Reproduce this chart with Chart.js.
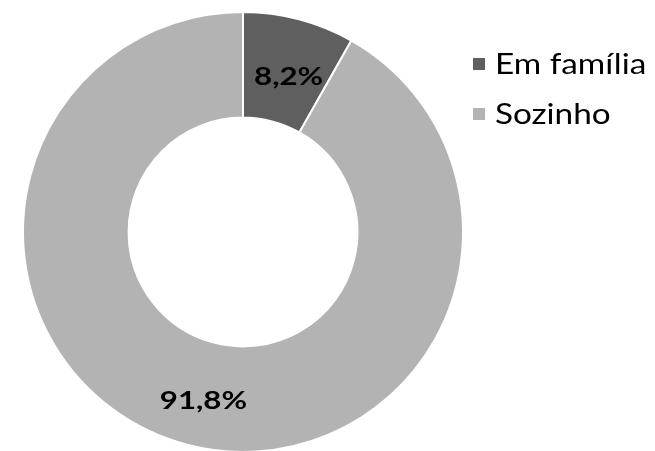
<!DOCTYPE html>
<html>
<head>
<meta charset="utf-8">
<script src="https://cdn.jsdelivr.net/npm/chart.js@4/dist/chart.umd.min.js"></script>
<style>
  html, body { margin: 0; padding: 0; background: #ffffff; }
  #wrap { width: 655px; height: 451px; overflow: hidden; position: relative; }
  #chart { display: block; }
</style>
</head>
<body>
<div id="wrap"><canvas id="chart" width="655" height="464"></canvas></div>
<script>
// Categories and shares (%)
const categories = ['Em família', 'Sozinho'];
const shares = [8.2, 91.8];
const sliceColors = ['#5f5f5f', '#b3b3b3'];

const FONT = '"Century Gothic", "URW Gothic", Lato, sans-serif';

const fmt = v => v.toFixed(1).replace('.', ',') + '%';

// Text drawn with a slight horizontal stretch for a wide geometric look
function wideText(ctx, text, x, y, sx) {
  ctx.save();
  ctx.translate(x, y);
  ctx.scale(sx, 1);
  ctx.fillText(text, 0, 0);
  ctx.restore();
}

// Draws the percentage on each slice and the legend on the right
const annotate = {
  id: 'annotate',
  afterDatasetsDraw(chart) {
    const ctx = chart.ctx;
    const meta = chart.getDatasetMeta(0);
    ctx.save();
    ctx.fillStyle = '#000000';
    ctx.font = 'bold 25px ' + FONT;
    ctx.textAlign = 'center';
    ctx.textBaseline = 'middle';
    meta.data.forEach((arc, i) => {
      const p = arc.tooltipPosition();
      wideText(ctx, fmt(shares[i]), p.x + 3, p.y + 7, 1.25);
    });

    ctx.font = '28px ' + FONT;
    ctx.textAlign = 'left';
    ctx.textBaseline = 'middle';
    const lx = 473, ly0 = 64, gap = 50;
    categories.forEach((c, i) => {
      const y = ly0 + i * gap;
      ctx.fillStyle = sliceColors[i];
      ctx.fillRect(lx, y - 6, 12, 12);
      ctx.fillStyle = '#000000';
      wideText(ctx, c, lx + 22, y + 1, 1.19);
    });
    ctx.restore();
  }
};

new Chart(document.getElementById('chart'), {
  type: 'doughnut',
  data: {
    labels: categories,
    datasets: [{
      data: shares,
      backgroundColor: sliceColors,
      borderColor: '#ffffff',
      borderWidth: 2,
      hoverOffset: 0,
      offset: 0
    }]
  },
  options: {
    responsive: false,
    animation: false,
    cutout: '52%',
    rotation: 0,
    layout: { padding: { left: 22, right: 191, top: 11, bottom: 11 } },
    plugins: {
      legend: { display: false },
      tooltip: { enabled: false }
    },
    events: []
  },
  plugins: [annotate]
});
</script>
</body>
</html>
